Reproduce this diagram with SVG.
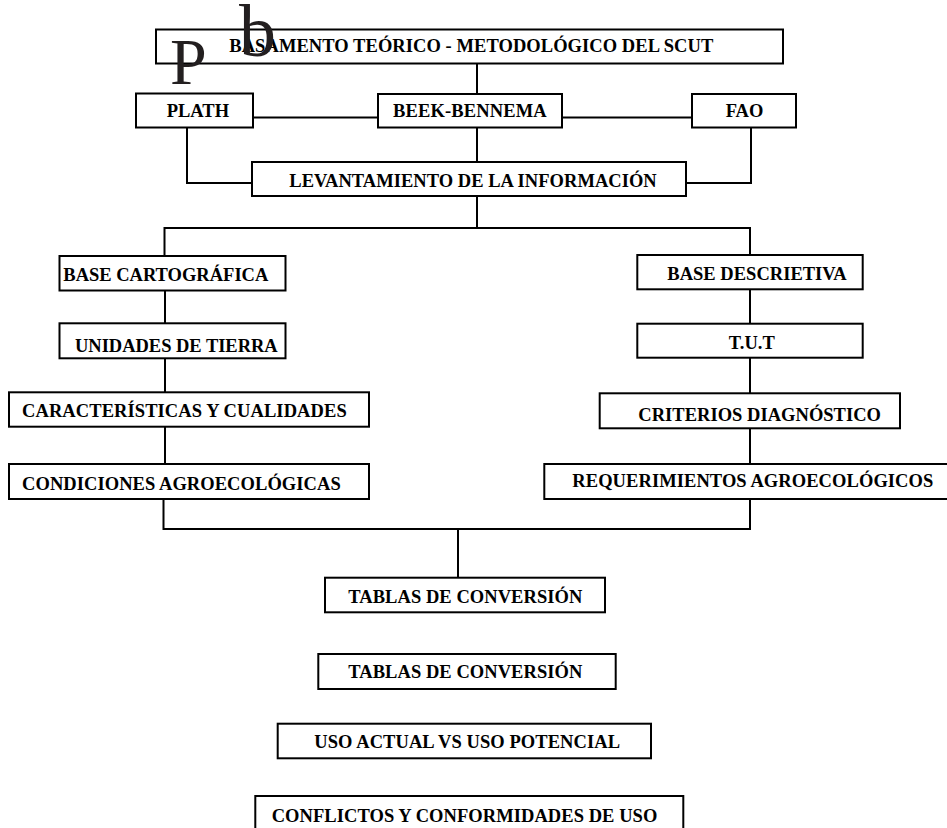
<svg xmlns="http://www.w3.org/2000/svg" width="947" height="828" viewBox="0 0 947 828">
<style>
.box{fill:#fff;stroke:#000;stroke-width:2}
.c{fill:none;stroke:#000;stroke-width:2}
.t{font-family:"Liberation Serif","Times New Roman",serif;font-weight:bold;font-size:18.5px;fill:#000}
.big{font-family:"Liberation Serif","Times New Roman",serif;fill:#231f20}
</style>
<rect width="947" height="828" fill="#fff"/>
<g id="connectors" class="c">
<path d="M477,63 V94"/>
<path d="M253,117.5 H378"/>
<path d="M562,117.5 H692"/>
<path d="M477,127.5 V162"/>
<path d="M187,127.5 V183 H252"/>
<path d="M751,127.5 V183 H686"/>
<path d="M477,196 V228"/>
<path d="M164.5,256 V228 H750 V255"/>
<path d="M165,290.5 V323"/>
<path d="M165,358 V392"/>
<path d="M165,427 V464"/>
<path d="M750,289 V324"/>
<path d="M750,358 V393"/>
<path d="M750,428 V464"/>
<path d="M163.5,499 V529 H750 V499"/>
<path d="M458,529 V578"/>
</g>
<g id="n-basamento"><rect class="box" x="156" y="29.5" width="627" height="34"/><text class="t" x="229.3" y="52.3" textLength="484" lengthAdjust="spacing">BASAMENTO TEÓRICO - METODOLÓGICO DEL SCUT</text></g>
<g id="n-plath"><rect class="box" x="136" y="93.5" width="117" height="34"/><text class="t" x="166.7" y="116.5">PLATH</text></g>
<g id="n-beek"><rect class="box" x="378" y="94" width="184" height="33.5"/><text class="t" x="393" y="116.7" textLength="153.7" lengthAdjust="spacing">BEEK-BENNEMA</text></g>
<g id="n-fao"><rect class="box" x="692" y="94" width="104" height="33.5"/><text class="t" x="744.5" y="116.7" text-anchor="middle">FAO</text></g>
<g id="n-levantamiento"><rect class="box" x="252" y="162" width="434" height="34"/><text class="t" x="289.3" y="186.7" textLength="367.4" lengthAdjust="spacing">LEVANTAMIENTO DE LA INFORMACIÓN</text></g>
<g id="n-basecart"><rect class="box" x="59.5" y="256" width="226" height="34.5"/><text class="t" x="63.3" y="281" textLength="205" lengthAdjust="spacing">BASE CARTOGRÁFICA</text></g>
<g id="n-unidades"><rect class="box" x="59.5" y="323.3" width="226" height="35"/><text class="t" x="75" y="351.7" textLength="202.7" lengthAdjust="spacing">UNIDADES DE TIERRA</text></g>
<g id="n-caracteristicas"><rect class="box" x="9" y="392.3" width="360" height="34.4"/><text class="t" x="22" y="417.3" textLength="324.7" lengthAdjust="spacing">CARACTERÍSTICAS Y CUALIDADES</text></g>
<g id="n-condiciones"><rect class="box" x="9" y="464" width="360" height="35"/><text class="t" x="22" y="490" textLength="318.7" lengthAdjust="spacing">CONDICIONES AGROECOLÓGICAS</text></g>
<g id="n-basedesc"><rect class="box" x="637.3" y="255" width="225.4" height="34.3"/><text class="t" x="667.3" y="280" textLength="179.4" lengthAdjust="spacing">BASE DESCRIETIVA</text></g>
<g id="n-tut"><rect class="box" x="637.3" y="323.7" width="225.4" height="34"/><text class="t" x="751.8" y="349" text-anchor="middle">T.U.T</text></g>
<g id="n-criterios"><rect class="box" x="599.7" y="393.3" width="300.3" height="35"/><text class="t" x="638.3" y="420.7" textLength="242.7" lengthAdjust="spacing">CRITERIOS DIAGNÓSTICO</text></g>
<g id="n-requerimientos"><rect class="box" x="544.3" y="464" width="420" height="35"/><text class="t" x="572.3" y="487.3" textLength="361" lengthAdjust="spacing">REQUERIMIENTOS AGROECOLÓGICOS</text></g>
<g id="n-tablas1"><rect class="box" x="325" y="577.7" width="280" height="34.6"/><text class="t" x="348.3" y="602.7" textLength="234" lengthAdjust="spacing">TABLAS DE CONVERSIÓN</text></g>
<g id="n-tablas2"><rect class="box" x="318.3" y="654" width="297.4" height="35"/><text class="t" x="348.3" y="678.3" textLength="234" lengthAdjust="spacing">TABLAS DE CONVERSIÓN</text></g>
<g id="n-uso"><rect class="box" x="277.7" y="723.7" width="373.3" height="34.6"/><text class="t" x="314.3" y="748.3" textLength="305.7" lengthAdjust="spacing">USO ACTUAL VS USO POTENCIAL</text></g>
<g id="n-conflictos"><rect class="box" x="255.3" y="796" width="428" height="50"/><text class="t" x="271.7" y="821.7" textLength="385.6" lengthAdjust="spacing">CONFLICTOS Y CONFORMIDADES DE USO</text></g>
<text class="big" x="170" y="84" font-size="66">P</text>
<text class="big" x="239" y="55.5" font-size="74">b</text>
</svg>
